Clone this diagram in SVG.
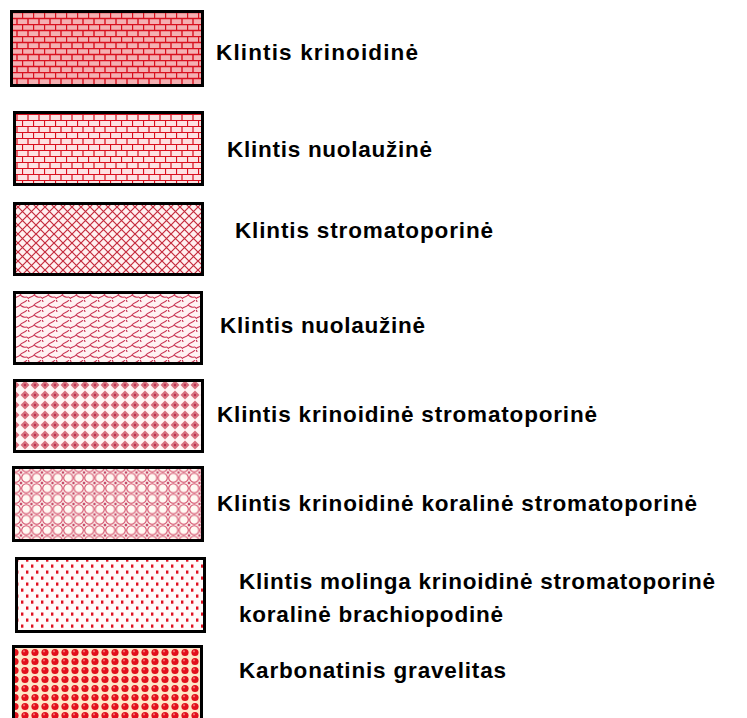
<svg xmlns="http://www.w3.org/2000/svg" width="747" height="718" viewBox="0 0 747 718">
<style>
.box{stroke:#000;stroke-width:3}
.lbl{font-family:"Liberation Sans",Arial,sans-serif;font-weight:bold;font-size:22.5px;fill:#000}
</style>
<defs>
<pattern id="brick1" width="11" height="12" patternUnits="userSpaceOnUse">
<rect width="11" height="12" fill="#f4b0b2"/>
<path d="M0,0.5H11M0,6.5H11M0.5,0V6.5M6,6.5V12" stroke="#d8101e" stroke-width="1.4" fill="none"/>
</pattern>
<pattern id="brick2" width="11" height="12" patternUnits="userSpaceOnUse">
<rect width="11" height="12" fill="#fde2e2"/>
<path d="M0,0.5H11M0,6.5H11M0.5,0V6.5M6,6.5V12" stroke="#d8101e" stroke-width="1.2" fill="none"/>
</pattern>
<pattern id="cross" width="9" height="9" patternUnits="userSpaceOnUse">
<rect width="9" height="9" fill="#fff0f0"/>
<path d="M-1,-1L10,10M10,-1L-1,10" stroke="#c42a3c" stroke-width="1.2" fill="none"/>
</pattern>
<pattern id="wave" width="14" height="10" patternUnits="userSpaceOnUse">
<rect width="14" height="10" fill="#fff2f2"/>
<path d="M-1,10C1,6 4,8 6,5C8,2 11,3 13,0M6,5C8,6 9,8 12,7C13,6.5 14,8 15,9M-1,0C0,-1 1,1 1,2" stroke="#c83050" stroke-width="1.1" fill="none"/>
</pattern>
<pattern id="diam" width="10" height="10" patternUnits="userSpaceOnUse">
<rect width="10" height="10" fill="#fff4f4"/>
<polygon points="5,0.5 9.5,5 5,9.5 0.5,5" fill="#d8707e"/>
<circle cx="5" cy="5" r="1.2" fill="#b83050"/>
</pattern>
<pattern id="circ" width="10.5" height="10.5" patternUnits="userSpaceOnUse">
<rect width="10.5" height="10.5" fill="#fff8f2"/>
<circle cx="5.25" cy="5.25" r="4.6" fill="none" stroke="#d04060" stroke-width="1"/>
<polygon points="0,-1.6 1.6,0 0,1.6 -1.6,0" fill="#c04060"/>
<polygon points="10.5,-1.6 12.1,0 10.5,1.6 8.9,0" fill="#c04060"/>
<polygon points="0,8.9 1.6,10.5 0,12.1 -1.6,10.5" fill="#c04060"/>
<polygon points="10.5,8.9 12.1,10.5 10.5,12.1 8.9,10.5" fill="#c04060"/>
</pattern>
<pattern id="dots" width="10" height="12" patternUnits="userSpaceOnUse">
<rect width="10" height="12" fill="#fffafa"/>
<rect x="1" y="0.5" width="2.4" height="3.2" fill="#e01020"/>
<rect x="6" y="6.5" width="2.4" height="3.2" fill="#e01020"/>
</pattern>
<pattern id="grav" width="10" height="9" patternUnits="userSpaceOnUse">
<rect width="10" height="9" fill="#ffe6c8"/>
<circle cx="5" cy="4.5" r="3.6" fill="#e2101c"/>
<circle cx="4" cy="3.3" r="1.1" fill="#f87070"/>
</pattern>
</defs>

<g id="n1"><rect class="box" x="11.5" y="11.5" width="191" height="74" fill="url(#brick1)"/><text class="lbl" x="216" y="60" textLength="202" lengthAdjust="spacing">Klintis krinoidinė</text></g>
<g id="n2"><rect class="box" x="14.5" y="112.5" width="188" height="72" fill="url(#brick2)"/><text class="lbl" x="227" y="157" textLength="205" lengthAdjust="spacing">Klintis nuolaužinė</text></g>
<g id="n3"><rect class="box" x="14.5" y="203.5" width="188" height="71" fill="url(#cross)"/><text class="lbl" x="235" y="238" textLength="258" lengthAdjust="spacing">Klintis stromatoporinė</text></g>
<g id="n4"><rect class="box" x="14.5" y="292.5" width="187" height="71" fill="url(#wave)"/><text class="lbl" x="220" y="333" textLength="205" lengthAdjust="spacing">Klintis nuolaužinė</text></g>
<g id="n5"><rect class="box" x="14.5" y="380.5" width="188" height="71" fill="url(#diam)"/><text class="lbl" x="217" y="422" textLength="380" lengthAdjust="spacing">Klintis krinoidinė stromatoporinė</text></g>
<g id="n6"><rect class="box" x="13.5" y="467.5" width="189" height="73" fill="url(#circ)"/><text class="lbl" x="217" y="511" textLength="480" lengthAdjust="spacing">Klintis krinoidinė koralinė stromatoporinė</text></g>
<g id="n7"><rect class="box" x="16.5" y="558.5" width="188" height="73" fill="url(#dots)"/><text class="lbl" x="239" y="589" textLength="476" lengthAdjust="spacing">Klintis molinga krinoidinė stromatoporinė</text><text class="lbl" x="239" y="622" textLength="264" lengthAdjust="spacing">koralinė brachiopodinė</text></g>
<g id="n8"><rect class="box" x="13.5" y="646.5" width="188" height="80" fill="url(#grav)"/><text class="lbl" x="239" y="678" textLength="267" lengthAdjust="spacing">Karbonatinis gravelitas</text></g>
<g id="connectors"/>
</svg>
